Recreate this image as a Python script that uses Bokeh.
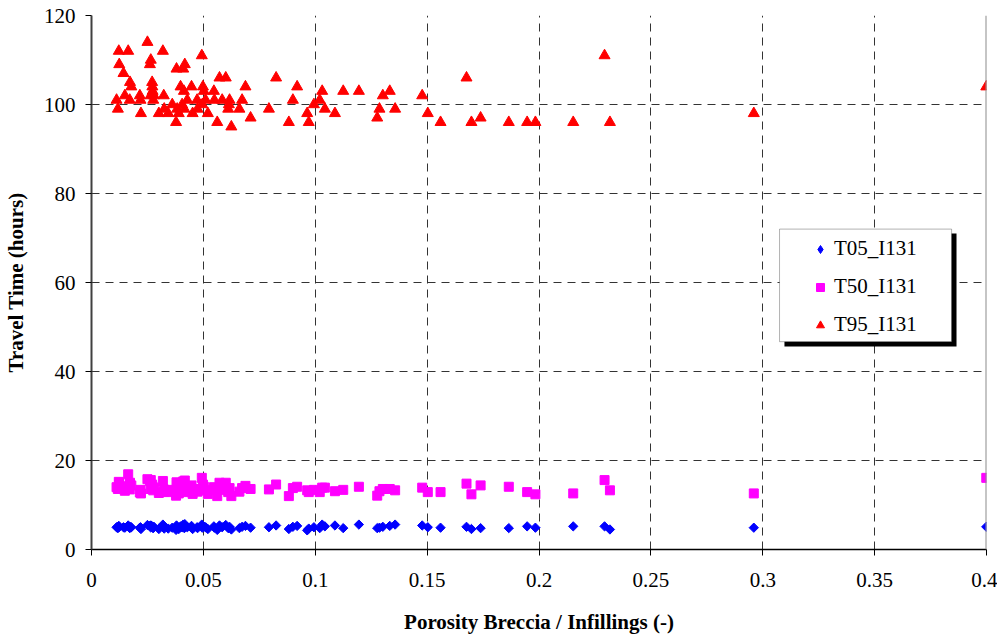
import numpy as np
from bokeh.plotting import figure
from bokeh.models import Range1d, FixedTicker, Span, Legend, LegendItem, BoxAnnotation
from bokeh.embed import file_html
from bokeh.resources import INLINE

porosity = [0.0112, 0.0118, 0.0122, 0.0124, 0.0143, 0.0149, 0.0164, 0.0171, 0.0172, 0.0178,
            0.0216, 0.0219, 0.0221, 0.0250, 0.0261, 0.0264, 0.0265, 0.0271, 0.0272, 0.0273,
            0.0276, 0.0279, 0.0301, 0.0319, 0.0323, 0.0325, 0.0343, 0.0361, 0.0378, 0.0380,
            0.0383, 0.0390, 0.0398, 0.0405, 0.0410, 0.0413, 0.0415, 0.0417, 0.0428, 0.0447,
            0.0452, 0.0472, 0.0474, 0.0493, 0.0495, 0.0498, 0.0502, 0.0510, 0.0520, 0.0547,
            0.0549, 0.0562, 0.0572, 0.0584, 0.0600, 0.0611, 0.0614, 0.0617, 0.0625, 0.0661,
            0.0673, 0.0688, 0.0711, 0.0793, 0.0825, 0.0882, 0.0900, 0.0919, 0.0964, 0.0971,
            0.0994, 0.1020, 0.1031, 0.1043, 0.1088, 0.1125, 0.1195, 0.1277, 0.1287, 0.1302,
            0.1333, 0.1357, 0.1478, 0.1503, 0.1560, 0.1676, 0.1698, 0.1739, 0.1865, 0.1947,
            0.1984, 0.2153, 0.2293, 0.2317, 0.2960, 0.3999]

t95 = [101, 99, 112, 109, 107, 102, 112, 101, 105, 104,
       102, 101, 98, 114, 109, 102, 110, 105, 104, 103,
       101, 102, 98, 112, 102, 99, 98, 100, 96, 108,
       99, 98, 104, 100, 108, 103, 99, 109, 101, 104,
       98, 101, 99, 111, 100, 104, 103, 101, 98, 103,
       101, 96, 106, 101, 106, 99, 100, 101, 95, 99,
       101, 104, 97, 99, 106, 96, 101, 104, 98, 96,
       100, 101, 103, 99, 98, 103, 103, 97, 99, 102,
       103, 99, 102, 98, 96, 106, 96, 97, 96, 96,
       96, 96, 111, 96, 98, 104]

t50 = [14.0, 13.6, 15.2, 14.8, 14.2, 13.2, 16.9, 13.5, 15.0, 14.4,
       12.8, 13.4, 12.6, 15.8, 15.4, 13.6, 15.6, 14.6, 14.2, 13.8,
       13.3, 13.9, 12.7, 15.4, 13.5, 13.0, 12.9, 13.4, 12.1, 15.1,
       13.1, 12.6, 14.2, 13.6, 15.3, 14.0, 12.9, 15.5, 13.4, 14.4,
       12.5, 13.6, 13.0, 16.1, 13.5, 14.6, 14.1, 13.3, 12.5, 14.0,
       13.4, 12.0, 15.0, 13.4, 15.0, 12.9, 13.2, 13.8, 12.0, 13.0,
       13.8, 14.3, 13.6, 13.5, 14.6, 12.0, 13.8, 14.1, 13.3, 12.9,
       13.4, 12.9, 13.9, 13.9, 13.1, 13.4, 14.1, 12.1, 13.1, 13.6,
       13.6, 13.3, 13.9, 12.9, 12.9, 14.8, 12.4, 14.4, 14.1, 12.9,
       12.4, 12.6, 15.6, 13.3, 12.6, 16.1]

t05 = [5.0, 4.8, 5.3, 5.1, 5.0, 4.9, 5.4, 4.8, 5.1, 5.0,
       4.9, 5.0, 4.6, 5.5, 5.3, 5.0, 5.4, 5.2, 5.1, 4.9,
       4.8, 5.1, 4.6, 5.6, 5.0, 4.7, 4.7, 4.9, 4.4, 5.4,
       4.8, 4.6, 5.2, 5.0, 5.6, 5.1, 4.8, 5.7, 5.0, 5.3,
       4.6, 5.0, 4.8, 5.6, 4.9, 5.3, 5.1, 5.0, 4.6, 5.2,
       4.9, 4.4, 5.4, 5.0, 5.5, 4.8, 4.9, 5.1, 4.5, 4.8,
       5.1, 5.3, 4.9, 5.0, 5.4, 4.6, 5.1, 5.3, 4.3, 4.7,
       5.0, 4.8, 5.6, 5.2, 5.4, 4.8, 5.6, 4.8, 4.9, 5.1,
       5.3, 5.6, 5.4, 5.0, 4.9, 5.1, 4.6, 4.8, 4.8, 5.2,
       4.9, 5.2, 5.2, 4.5, 4.9, 5.1]

series_names = ["T05_I131", "T50_I131", "T95_I131"]
x_ticks = [0, 0.05, 0.1, 0.15, 0.2, 0.25, 0.3, 0.35, 0.4]
x_tick_labels = ["0", "0.05", "0.1", "0.15", "0.2", "0.25", "0.3", "0.35", "0.4"]
y_ticks = [0, 20, 40, 60, 80, 100, 120]

FONT = "Liberation Serif"

p = figure(width=997, height=636, output_backend="svg", toolbar_location=None,
           x_range=Range1d(0, 0.4), y_range=Range1d(0, 120),
           min_border_left=91, min_border_right=11, min_border_top=15, min_border_bottom=84)
p.outline_line_color = None
p.background_fill_color = "white"

# axes
p.xaxis.ticker = FixedTicker(ticks=x_ticks)
p.xaxis.major_label_overrides = {t: l for t, l in zip(x_ticks, x_tick_labels)}
p.yaxis.ticker = FixedTicker(ticks=y_ticks)
for ax in (p.xaxis[0], p.yaxis[0]):
    ax.axis_line_color = "black"
    ax.axis_line_width = 1.5
    ax.major_tick_in = 0
    ax.major_tick_out = 6
    ax.major_tick_line_color = "black"
    ax.minor_tick_line_color = None
    ax.major_label_text_font = FONT
    ax.major_label_text_font_size = "21px"
    ax.major_label_text_color = "black"
    ax.axis_label_text_font = FONT
    ax.axis_label_text_font_size = "21px"
    ax.axis_label_text_font_style = "bold"
    ax.axis_label_text_color = "black"
p.yaxis.axis_line_color = "#404040"
p.yaxis.axis_line_width = 2
p.xaxis.axis_label = "Porosity Breccia / Infillings (-)"
p.yaxis.axis_label = "Travel Time (hours)"
p.xaxis.major_label_standoff = 17
p.xaxis.axis_label_standoff = 20
p.yaxis.major_label_standoff = 10
p.yaxis.axis_label_standoff = 13

# grids
p.xgrid.ticker = FixedTicker(ticks=x_ticks[1:-1])
p.ygrid.ticker = FixedTicker(ticks=y_ticks[1:-1])
for g in (p.xgrid[0], p.ygrid[0]):
    g.grid_line_color = "#333333"
    g.grid_line_width = 1
    g.grid_line_dash = "8 6"

p.add_layout(Span(location=x_ticks[-1], dimension="height",
                  line_color="#8c8c8c", line_width=2))

# data marks (diamonds = squares turned 45 degrees)
r05 = p.scatter(porosity, t05, marker="square", angle=np.pi / 4, size=6.6,
                fill_color="#0000FF", line_color="#0000FF")
r50 = p.scatter(porosity, t50, marker="square", size=9,
                fill_color="#FF00FF", line_color="#FF00FF")
r95 = p.scatter(porosity, t95, marker="triangle", size=11,
                fill_color="#FF0000", line_color="#FF0000")
# legend-only glyph for the diamond symbol (not drawn in the plot)
r05_key = p.scatter([np.nan], [np.nan], marker="diamond", size=12,
                    fill_color="#0000FF", line_color="#0000FF")

# legend box with shadow
shadow = BoxAnnotation(left=0.3097, right=0.3866, top=71.0, bottom=45.6,
                       fill_color="black", fill_alpha=1, line_color=None)
box = BoxAnnotation(left=0.3075, right=0.3844, top=72.0, bottom=46.7,
                    fill_color="white", fill_alpha=1, line_color="black", line_width=1)
p.add_layout(shadow)
p.add_layout(box)

legend = Legend(items=[LegendItem(label=series_names[0], renderers=[r05_key]),
                       LegendItem(label=series_names[1], renderers=[r50]),
                       LegendItem(label=series_names[2], renderers=[r95])],
                location=(719, 212), orientation="vertical",
                padding=0, margin=0, spacing=13,
                glyph_width=20, glyph_height=24, label_height=24, label_standoff=4,
                label_text_font=FONT, label_text_font_size="21px", label_text_color="black",
                border_line_color=None, background_fill_alpha=0)
p.add_layout(legend)

open("out.html", "w").write(file_html(p, INLINE))
